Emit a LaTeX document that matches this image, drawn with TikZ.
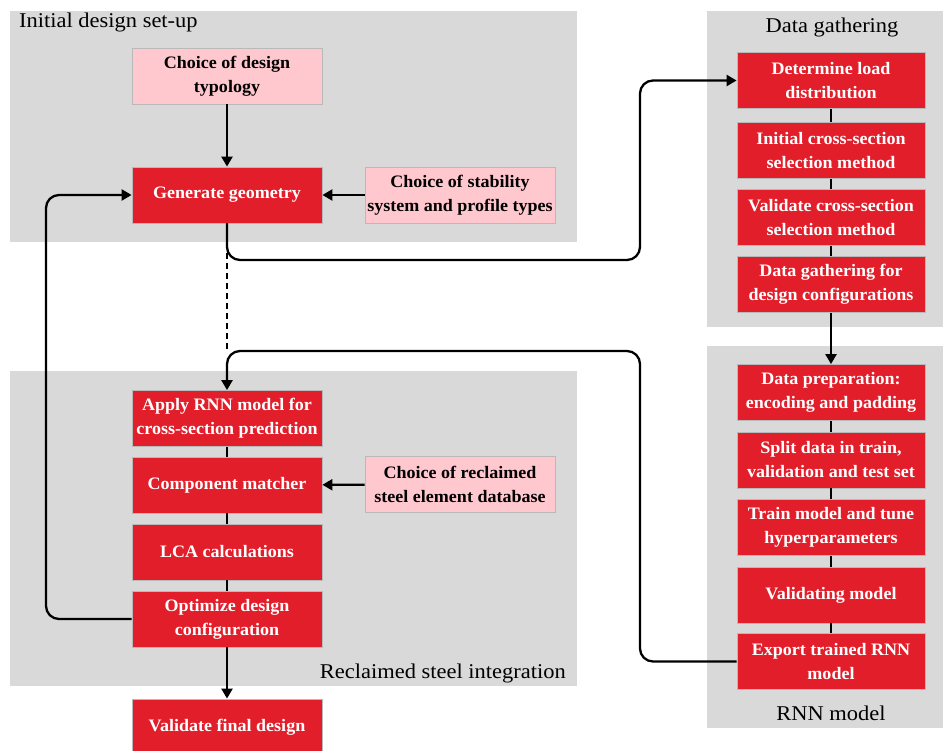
\documentclass[tikz,border=0pt]{standalone}
\usepackage{fontspec}
\setmainfont{Liberation Serif}[FakeStretch=1.07]
\newfontfamily\boxfont{Liberation Serif}[FakeStretch=1.03]
\usetikzlibrary{arrows.meta}
\definecolor{panelgray}{HTML}{D9D9D9}
\definecolor{stepred}{HTML}{E31E2B}
\definecolor{inputpink}{HTML}{FFC7CE}
\begin{document}
\begin{tikzpicture}[x=1pt,y=-1pt,
  stepbox/.style={rectangle, fill=stepred, draw=gray!55, line width=0.8pt,
    text=white, font=\boxfont\bfseries\fontsize{17.5}{24}\selectfont, align=center,
    minimum width=190pt, minimum height=56pt, inner sep=0pt},
  inbox/.style={stepbox, fill=inputpink, text=black},
  rightbox/.style={stepbox, minimum width=188pt},
  paneltitle/.style={font=\fontsize{21}{25}\selectfont, inner sep=0pt},
  flow/.style={line width=2.3pt, -{Triangle[length=10pt,width=11pt]}},
  link/.style={line width=2.3pt},
  loop/.style={flow, rounded corners=13pt}]
\useasboundingbox (0,0) rectangle (943,751);
\fill[white] (0,0) rectangle (943,751);

% grouping panels
\fill[panelgray] (10,11) rectangle (577,242);
\fill[panelgray] (707,11) rectangle (943,327);
\fill[panelgray] (707,346) rectangle (943,728);
\fill[panelgray] (10,371) rectangle (577,686);

\node[paneltitle, anchor=base west] (t1) at (19,28) {Initial design set-up};
\node[paneltitle, anchor=base] (t2) at (832,33) {Data gathering};
\node[paneltitle, anchor=base] (t3) at (831,720) {RNN model};
\node[paneltitle, anchor=base east] (t4) at (566,678) {Reclaimed steel integration};

% initial design set-up
\node[inbox] (typology) at (227,76) {Choice of design\\typology};
\node[stepbox] (geometry) at (227,195) {Generate geometry};
\node[inbox] (stability) at (460,195) {Choice of stability\\system and profile types};

% data gathering
\node[rightbox] (load) at (831,80.5) {Determine load\\distribution};
\node[rightbox] (initsel) at (831,150.5) {Initial cross-section\\selection method};
\node[rightbox] (valsel) at (831,217.5) {Validate cross-section\\selection method};
\node[rightbox] (gather) at (831,284.5) {Data gathering for\\design configurations};

% RNN model
\node[rightbox] (prep) at (831,392.5) {Data preparation:\\encoding and padding};
\node[rightbox] (split) at (831,460) {Split data in train,\\validation and test set};
\node[rightbox] (train) at (831,527.5) {Train model and tune\\hyperparameters};
\node[rightbox] (validm) at (831,595) {Validating model};
\node[rightbox] (export) at (831,661.5) {Export trained RNN\\model};

% reclaimed steel integration
\node[stepbox] (apply) at (227,418.5) {Apply RNN model for\\cross-section prediction};
\node[stepbox] (matcher) at (227,485) {Component matcher};
\node[stepbox] (lca) at (227,552) {LCA calculations};
\node[stepbox] (optimize) at (227,619) {Optimize design\\configuration};
\node[inbox] (database) at (460,484.5) {Choice of reclaimed\\steel element database};
\node[stepbox] (final) at (227,727) {Validate final design};

% routing points
\coordinate (busA) at (640,260);
\coordinate (busB) at (640,351);
\coordinate (busC) at (46,195);

% straight connectors
\draw[flow] (typology) -- (geometry);
\draw[flow] (stability) -- (geometry);
\draw[flow] (database) -- (matcher);
\draw[flow] (optimize) -- (final);
\draw[flow] (gather) -- (prep);
\draw[link] (load) -- (initsel);
\draw[link] (initsel) -- (valsel);
\draw[link] (valsel) -- (gather);
\draw[link] (prep) -- (split);
\draw[link] (split) -- (train);
\draw[link] (train) -- (validm);
\draw[link] (validm) -- (export);
\draw[link] (apply) -- (matcher);
\draw[link] (matcher) -- (lca);
\draw[link] (lca) -- (optimize);

% routed connectors
\draw[link, dash pattern=on 6pt off 4pt] (geometry.south) -- (geometry.south |- busB);
\draw[loop] (geometry.south) |- (busA) |- (load.west);
\draw[loop] (export.west) -| (busB) -| (apply.north);
\draw[loop] (optimize.west) -| (busC) -- (geometry.west);
\end{tikzpicture}
\end{document}
